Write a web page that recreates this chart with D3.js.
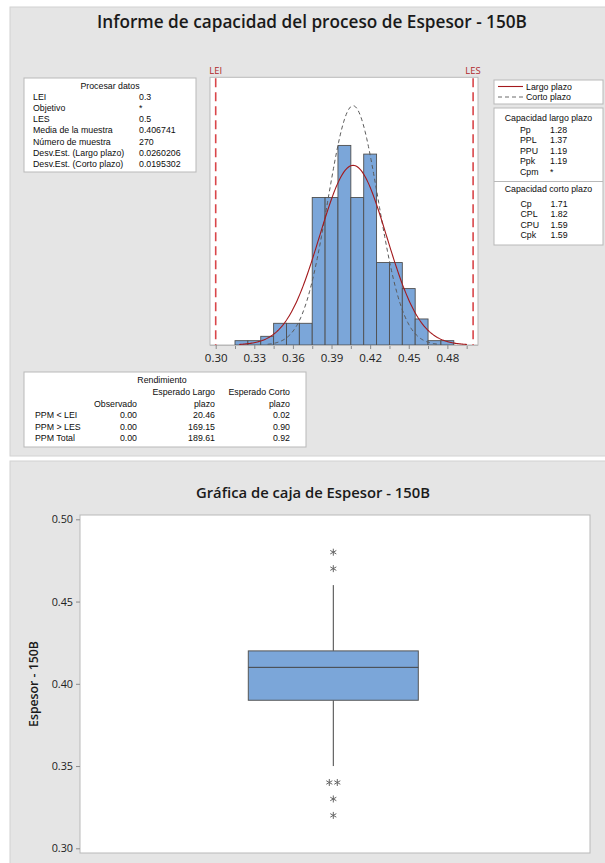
<!DOCTYPE html>
<html><head><meta charset="utf-8">
<script src="https://cdn.jsdelivr.net/npm/d3@7"></script>
<style>
body{margin:0;background:#fff;}
svg{display:block;font-family:"Open Sans",sans-serif;}
.tbl{font-family:"Liberation Sans",Arial,sans-serif;}
</style></head><body>
<svg id="chart" width="605" height="863"></svg>
<script>
// Espesor - 150B measurements grouped by value (resolution 0.01)
const espesorValues = [0.32,0.33,0.34,0.35,0.36,0.37,0.38,0.39,0.40,0.41,0.42,0.43,0.44,0.45,0.46,0.47,0.48];
const espesorCounts = [1,1,2,5,5,5,34,34,46,34,44,19,19,13,6,1,1];
const binWidth = 0.01;

// specification limits
const specValues = [0.3, 0.5];
const specLabels = ["LEI", "LES"];

// process statistics
const processMean = 0.406741;
const sdLong = 0.0260206;
const sdShort = 0.0195302;

// axis ticks
const histTickLabels = [0.30,0.33,0.36,0.39,0.42,0.45,0.48];
const histMinorTicks = [0.315,0.345,0.375,0.405,0.435,0.465,0.495];
const boxTicks = [0.30,0.35,0.40,0.45,0.50];

// text tables
const procLabels = ["LEI","Objetivo","LES","Media de la muestra","Número de muestra","Desv.Est. (Largo plazo)","Desv.Est. (Corto plazo)"];
const procValues = ["0.3","*","0.5","0.406741","270","0.0260206","0.0195302"];
const legendLabels = ["Largo plazo","Corto plazo"];
const capLongLabels = ["Pp","PPL","PPU","Ppk","Cpm"];
const capLongValues = ["1.28","1.37","1.19","1.19","*"];
const capShortLabels = ["Cp","CPL","CPU","Cpk"];
const capShortValues = ["1.71","1.82","1.59","1.59"];
const yieldRows = ["PPM < LEI","PPM > LES","PPM Total"];
const yieldObserved = ["0.00","0.00","0.00"];
const yieldLong = ["20.46","169.15","189.61"];
const yieldShort = ["0.02","0.90","0.92"];

const svg = d3.select("#chart");
const BAR = "#7ba6d9", EDGE = "#4f4f4f", FRAME = "#b9b9b9", PANEL = "#e5e5e5";
const RED = "#a3191c", SPEC = "#d9464a", INK = "#0d0d0d";
const FS = 8.8; // table text size

// ---------- panels ----------
svg.append("rect").attr("x",10).attr("y",7).attr("width",600).attr("height",449)
  .attr("fill",PANEL).attr("stroke","#d2d2d2");
svg.append("rect").attr("x",10).attr("y",461).attr("width",600).attr("height",410)
  .attr("fill",PANEL).attr("stroke","#d2d2d2");

svg.append("text").attr("x",312).attr("y",28).attr("text-anchor","middle")
  .attr("font-size",17.2).attr("font-weight",600).attr("fill","#1a1a1a")
  .text("Informe de capacidad del proceso de Espesor - 150B");

// ---------- histogram ----------
const hx = d3.scaleLinear().domain([0.30,0.50]).range([215.7,473.1]);
const hy = d3.scaleLinear().domain([0,61.7]).range([345,77.3]);
const fL = 210, fR = 478, fT = 77.3, fB = 345;

svg.append("rect").attr("x",fL).attr("y",fT).attr("width",fR-fL).attr("height",fB-fT)
  .attr("fill","#fff").attr("stroke",FRAME);

const bins = espesorValues.map((v,i)=>({v, c:espesorCounts[i]}));
svg.append("g").selectAll("rect").data(bins).join("rect")
  .attr("x",d=>hx(d.v-binWidth/2)).attr("width",d=>hx(d.v+binWidth/2)-hx(d.v-binWidth/2))
  .attr("y",d=>hy(d.c)).attr("height",d=>hy(0)-hy(d.c))
  .attr("fill",BAR).attr("stroke",EDGE).attr("stroke-width",0.9);

const n = d3.sum(espesorCounts);
function normalCurve(sd){
  const lo = processMean-3.4*sd, hi = processMean+3.4*sd;
  return d3.range(0,201).map(i=>{
    const x = lo+(hi-lo)*i/200;
    const z = (x-processMean)/sd;
    return [x, n*binWidth*Math.exp(-0.5*z*z)/(sd*Math.sqrt(2*Math.PI))];
  });
}
const curveLine = d3.line().x(d=>hx(d[0])).y(d=>hy(d[1]));
svg.append("path").attr("d",curveLine(normalCurve(sdShort))).attr("fill","none")
  .attr("stroke","#5a5a5a").attr("stroke-width",1).attr("stroke-dasharray","4,3");
svg.append("path").attr("d",curveLine(normalCurve(sdLong))).attr("fill","none")
  .attr("stroke",RED).attr("stroke-width",1.1);

// spec limit lines
specValues.forEach((s,i)=>{
  svg.append("line").attr("x1",hx(s)).attr("x2",hx(s)).attr("y1",fT+1).attr("y2",fB)
    .attr("stroke",SPEC).attr("stroke-width",1.6).attr("stroke-dasharray","9,5");
  svg.append("text").attr("x",hx(s)).attr("y",74).attr("text-anchor","middle")
    .attr("font-size",9.5).attr("fill","#b0282c").text(specLabels[i]);
});

// x axis
const axMinor = svg.append("g").attr("transform",`translate(0,${fB})`)
  .call(d3.axisBottom(hx).tickValues(histMinorTicks).tickSize(4).tickFormat(""));
const axMajor = svg.append("g").attr("transform",`translate(0,${fB})`)
  .call(d3.axisBottom(hx).tickValues(histTickLabels).tickSize(4).tickFormat(d3.format(".2f")));
[axMinor,axMajor].forEach(g=>{
  g.select(".domain").attr("d",`M${fL},0.5H${fR}`).attr("stroke",FRAME);
  g.selectAll(".tick line").attr("stroke","#8a8a8a");
  g.selectAll("text").attr("font-size",11.5).attr("fill","#222").attr("font-family","Open Sans").attr("dy","0.85em");
});

// ---------- Procesar datos ----------
const pd = svg.append("g").attr("class","tbl");
pd.append("rect").attr("x",24).attr("y",78).attr("width",172).attr("height",94)
  .attr("fill","#fff").attr("stroke",FRAME);
pd.append("text").attr("x",110).attr("y",88.8).attr("text-anchor","middle")
  .attr("font-size",FS).attr("fill",INK).text("Procesar datos");
procLabels.forEach((l,i)=>{
  const y = 100+i*11.15;
  pd.append("text").attr("x",33).attr("y",y).attr("font-size",FS).attr("fill",INK).text(l);
  pd.append("text").attr("x",139).attr("y",y).attr("font-size",FS).attr("fill",INK).text(procValues[i]);
});

// ---------- legend ----------
const lg = svg.append("g").attr("class","tbl");
lg.append("rect").attr("x",494).attr("y",80).attr("width",109).attr("height",24)
  .attr("fill","#fff").attr("stroke",FRAME);
lg.append("line").attr("x1",498).attr("x2",523).attr("y1",86.5).attr("y2",86.5)
  .attr("stroke",RED).attr("stroke-width",1.1);
lg.append("line").attr("x1",498).attr("x2",523).attr("y1",97).attr("y2",97)
  .attr("stroke","#6a6a6a").attr("stroke-width",1).attr("stroke-dasharray","4,3");
legendLabels.forEach((l,i)=>{
  lg.append("text").attr("x",526).attr("y",89.8+i*10.5).attr("font-size",FS).attr("fill",INK).text(l);
});

// ---------- capability ----------
const cp = svg.append("g").attr("class","tbl");
cp.append("rect").attr("x",494).attr("y",108).attr("width",109).attr("height",137)
  .attr("fill","#fff").attr("stroke",FRAME);
cp.append("line").attr("x1",494).attr("x2",603).attr("y1",181.5).attr("y2",181.5).attr("stroke",FRAME);
cp.append("text").attr("x",548.5).attr("y",120.5).attr("text-anchor","middle")
  .attr("font-size",FS).attr("fill",INK).text("Capacidad largo plazo");
capLongLabels.forEach((l,i)=>{
  const y = 132.6+i*10.6;
  cp.append("text").attr("x",520).attr("y",y).attr("font-size",FS).attr("fill",INK).text(l);
  cp.append("text").attr("x",550).attr("y",y).attr("font-size",FS).attr("fill",INK).text(capLongValues[i]);
});
cp.append("text").attr("x",548.5).attr("y",191.5).attr("text-anchor","middle")
  .attr("font-size",FS).attr("fill",INK).text("Capacidad corto plazo");
capShortLabels.forEach((l,i)=>{
  const y = 207+i*10.4;
  cp.append("text").attr("x",520.5).attr("y",y).attr("font-size",FS).attr("fill",INK).text(l);
  cp.append("text").attr("x",550.5).attr("y",y).attr("font-size",FS).attr("fill",INK).text(capShortValues[i]);
});

// ---------- Rendimiento ----------
const rd = svg.append("g").attr("class","tbl");
rd.append("rect").attr("x",24).attr("y",372).attr("width",282).attr("height",75)
  .attr("fill","#fff").attr("stroke",FRAME);
const t = (x,y,s,anchor)=>rd.append("text").attr("x",x).attr("y",y).attr("font-size",FS)
  .attr("fill",INK).attr("text-anchor",anchor||"start").text(s);
t(162,383,"Rendimiento","middle");
t(215,395,"Esperado Largo","end");
t(290,395,"Esperado Corto","end");
t(137,406.5,"Observado","end");
t(215,406.5,"plazo","end");
t(290,406.5,"plazo","end");
yieldRows.forEach((r,i)=>{
  const y = 418+i*11.5;
  t(35,y,r);
  t(137,y,yieldObserved[i],"end");
  t(215,y,yieldLong[i],"end");
  t(290,y,yieldShort[i],"end");
});

// ---------- box plot ----------
svg.append("text").attr("x",313).attr("y",498).attr("text-anchor","middle")
  .attr("font-size",14.8).attr("font-weight",600).attr("fill","#1a1a1a")
  .text("Gráfica de caja de Espesor - 150B");

const bL = 80, bR = 590, bT = 515, bB = 853;
const by = d3.scaleLinear().domain([0.30,0.50]).range([848.3,519.3]);
svg.append("rect").attr("x",bL).attr("y",bT).attr("width",bR-bL).attr("height",bB-bT)
  .attr("fill","#fff").attr("stroke",FRAME);

const yAx = svg.append("g").attr("transform",`translate(${bL},0)`)
  .call(d3.axisLeft(by).tickValues(boxTicks).tickSize(4).tickFormat(d3.format(".2f")));
yAx.select(".domain").remove();
yAx.selectAll(".tick line").attr("stroke","#8a8a8a");
yAx.selectAll("text").attr("font-size",10.8).attr("fill","#222").attr("font-family","Open Sans");

svg.append("text").attr("transform","translate(38,684) rotate(-90)").attr("text-anchor","middle")
  .attr("font-size",12.3).attr("font-weight",600).attr("fill","#1a1a1a").text("Espesor - 150B");

// quartiles and whiskers computed from the grouped measurements
const data = [];
espesorValues.forEach((v,i)=>{ for(let k=0;k<espesorCounts[i];k++) data.push(v); });
data.sort(d3.ascending);
const q1 = d3.quantile(data,0.25), med = d3.quantile(data,0.5), q3 = d3.quantile(data,0.75);
const iqr = q3-q1, loF = q1-1.5*iqr-1e-9, hiF = q3+1.5*iqr+1e-9;
const inside = data.filter(v=>v>=loF && v<=hiF);
const wLo = d3.min(inside), wHi = d3.max(inside);
const outliers = espesorValues.map((v,i)=>({v,c:espesorCounts[i]})).filter(d=>d.v<loF||d.v>hiF);

const cx = 333.3, half = 85;
const bx = svg.append("g");
bx.append("line").attr("x1",cx).attr("x2",cx).attr("y1",by(q3)).attr("y2",by(wHi)).attr("stroke","#444");
bx.append("line").attr("x1",cx).attr("x2",cx).attr("y1",by(q1)).attr("y2",by(wLo)).attr("stroke","#444");
bx.append("rect").attr("x",cx-half).attr("width",2*half).attr("y",by(q3)).attr("height",by(q1)-by(q3))
  .attr("fill",BAR).attr("stroke","#555").attr("stroke-width",1);
bx.append("line").attr("x1",cx-half).attr("x2",cx+half).attr("y1",by(med)).attr("y2",by(med))
  .attr("stroke","#444");

const star = d3.symbol(d3.symbolAsterisk).size(34);
outliers.forEach(o=>{
  for(let k=0;k<o.c;k++){
    const dx = (k-(o.c-1)/2)*8;
    bx.append("path").attr("d",star()).attr("transform",`translate(${cx+dx},${by(o.v)})`)
      .attr("fill","none").attr("stroke","#666").attr("stroke-width",1);
  }
});
</script>
</body></html>
